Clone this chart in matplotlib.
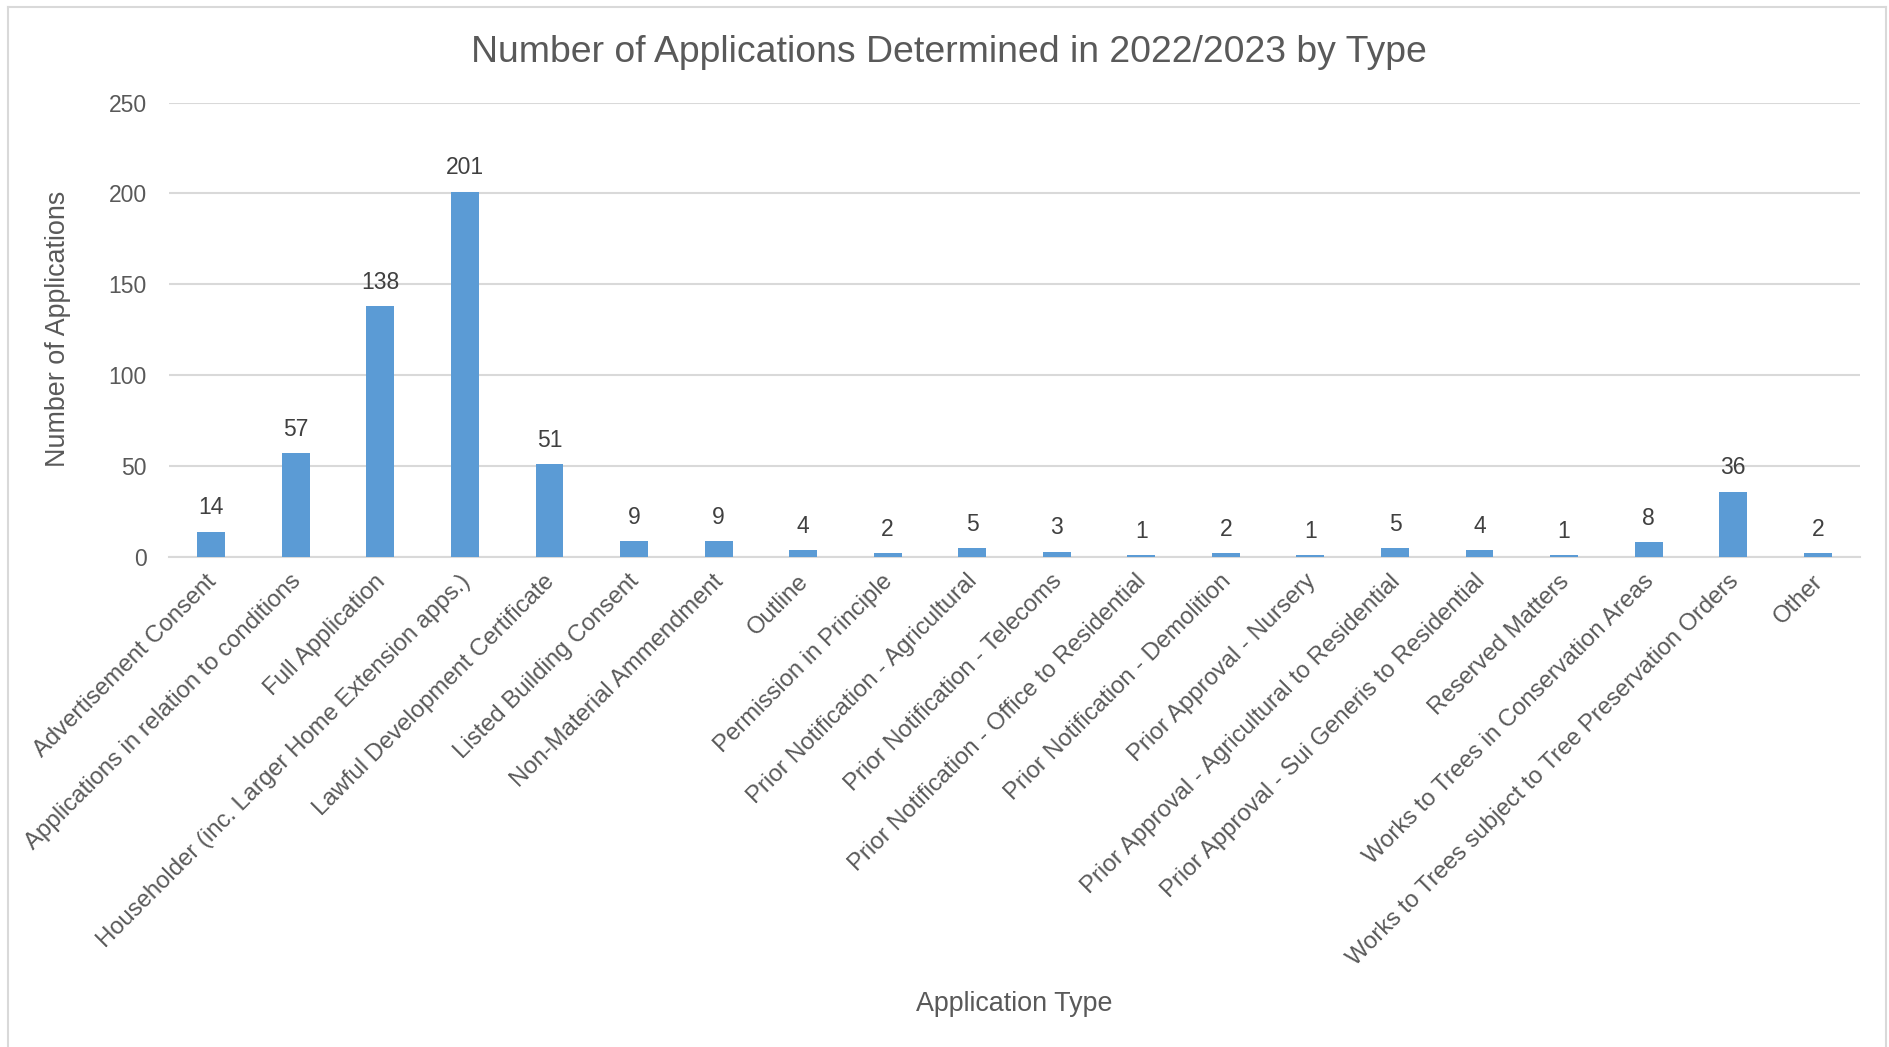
import matplotlib
matplotlib.use("Agg")
import matplotlib.pyplot as plt
from matplotlib.lines import Line2D
from matplotlib.transforms import ScaledTranslation

plt.rcParams['font.family'] = ['Liberation Sans', 'DejaVu Sans']

categories = [
    "Advertisement Consent",
    "Applications in relation to conditions",
    "Full Application",
    "Householder (inc. Larger Home Extension apps.)",
    "Lawful Development Certificate",
    "Listed Building Consent",
    "Non-Material Ammendment",
    "Outline",
    "Permission in Principle",
    "Prior Notification - Agricultural",
    "Prior Notification - Telecoms",
    "Prior Notification - Office to Residential",
    "Prior Notification - Demolition",
    "Prior Approval - Nursery",
    "Prior Approval - Agricultural to Residential",
    "Prior Approval - Sui Generis to Residential",
    "Reserved Matters",
    "Works to Trees in Conservation Areas",
    "Works to Trees subject to Tree Preservation Orders",
    "Other",
]
values = [14, 57, 138, 201, 51, 9, 9, 4, 2, 5, 3, 1, 2, 1, 5, 4, 1, 8, 36, 2]
yticks = [0, 50, 100, 150, 200, 250]

W, H = 1890, 1047
fig = plt.figure(figsize=(W / 100, H / 100), dpi=100)
fig.patch.set_facecolor('white')

# frame around chart
fc = '#D9D9D9'
fig.add_artist(Line2D([8 / W, 8 / W], [0, 1 - 7 / H], color=fc, lw=1.5, transform=fig.transFigure))
fig.add_artist(Line2D([8 / W, 1886 / W], [1 - 7 / H, 1 - 7 / H], color=fc, lw=1.5, transform=fig.transFigure))
fig.add_artist(Line2D([1886 / W, 1886 / W], [0, 1 - 7 / H], color=fc, lw=1.5, transform=fig.transFigure))

left, right = 169 / W, 1860 / W
bottom, top = 1 - 557 / H, 1 - 102.5 / H
ax = fig.add_axes([left, bottom, right - left, top - bottom])

x = list(range(len(categories)))
ax.bar(x, values, width=0.33, color='#5B9BD5', zorder=3)
ax.set_xlim(-0.5, len(categories) - 0.5)
ax.set_ylim(0, 250)
ax.set_yticks(yticks)
ax.yaxis.grid(True, color='#D9D9D9', lw=1.5, zorder=0)
ax.set_axisbelow(True)
for s in ['top', 'right', 'left']:
    ax.spines[s].set_visible(False)
ax.spines['bottom'].set_color('#D9D9D9')
ax.spines['bottom'].set_linewidth(1.5)
ax.tick_params(axis='y', length=0, pad=16, labelsize=16.5, labelcolor='#595959')
ax.tick_params(axis='x', length=0, pad=6)
ax.set_xticks(x)
ax.set_xticklabels(categories, rotation=45, ha='right', va='top',
                   rotation_mode='anchor', fontsize=17.2, color='#595959')
off = ScaledTranslation(-6 / 100, -5 / 100, fig.dpi_scale_trans)
for lab in ax.get_xticklabels():
    lab.set_transform(lab.get_transform() + off)

for xi, v in zip(x, values):
    ax.annotate(str(v), (xi, v), xytext=(0, 17), textcoords='offset points',
                ha='center', va='center', fontsize=16.5, color='#404040')

fig.text(949 / W, 1 - 52.5 / H, "Number of Applications Determined in 2022/2023 by Type",
         ha='center', va='center', fontsize=26.9, color='#595959')
fig.text(58 / W, 1 - 329 / H, "Number of Applications", rotation=90,
         ha='center', va='center', fontsize=19.4, color='#595959')
fig.text(1014 / W, 1 - 1004 / H, "Application Type",
         ha='center', va='center', fontsize=19.4, color='#595959')

fig.savefig("out.png", dpi=100, facecolor='white')
